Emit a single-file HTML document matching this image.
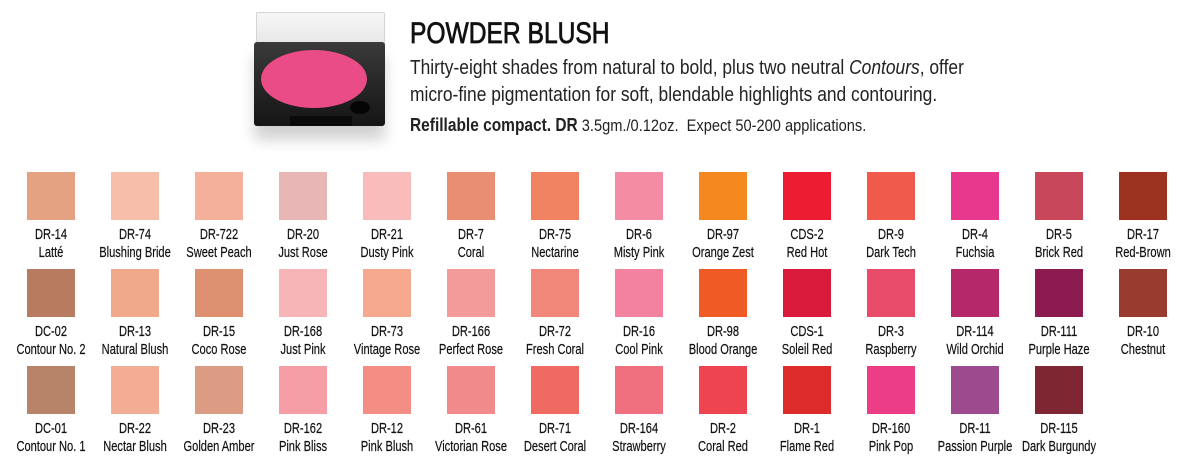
<!DOCTYPE html>
<html><head><meta charset="utf-8"><style>
body{margin:0;width:1186px;height:472px;background:#fff;position:relative;overflow:hidden;font-family:"Liberation Sans",sans-serif;color:#222}
.sw{position:absolute;width:48px;height:48px}
.lb{position:absolute;width:120px;text-align:center;font-size:15px;line-height:18px;transform:scaleX(0.74);transform-origin:center top;white-space:nowrap;color:#111;-webkit-text-stroke:0.2px #111}
.t{position:absolute;left:410px;white-space:nowrap;transform-origin:left top}
</style></head><body>
<div style="position:absolute;left:256px;top:12px;width:127px;height:32px;background:linear-gradient(#f7f7f7,#e6e6e6);border:1px solid #d5d5d5;border-radius:2px"></div>
<div style="position:absolute;left:254px;top:42px;width:131px;height:84px;background:linear-gradient(#3a3a3a,#151515);border-radius:3px;box-shadow:0 14px 14px rgba(0,0,0,0.18)"></div>
<div style="position:absolute;left:261px;top:50px;width:106px;height:58px;border-radius:50%;background:#e94c86"></div>
<div style="position:absolute;left:350px;top:101px;width:20px;height:13px;border-radius:50%;background:#050505"></div>
<div style="position:absolute;left:290px;top:116px;width:62px;height:10px;background:#0a0a0a"></div>
<div class="t" style="top:17px;font-size:30px;transform:scaleX(0.82);color:#111;-webkit-text-stroke:0.8px #111">POWDER BLUSH</div>
<div class="t" style="top:55px;font-size:20px;line-height:27px;transform:scaleX(0.87);color:#222">Thirty-eight shades from natural to bold, plus two neutral <i>Contours</i>, offer<br>micro-fine pigmentation for soft, blendable highlights and contouring.</div>
<div class="t" style="top:115px;font-size:17px;transform:scaleX(0.86);color:#222"><b style="font-size:18px">Refillable compact. DR</b> 3.5gm./0.12oz.&nbsp; Expect 50-200 applications.</div>
<div id="g"></div>
<script>
var rows=[
[["DR-14","Latté","#e5a282"],["DR-74","Blushing Bride","#f7bfa9"],["DR-722","Sweet Peach","#f4b09b"],["DR-20","Just Rose","#e9b6b6"],["DR-21","Dusty Pink","#f9bcbb"],["DR-7","Coral","#e98e72"],["DR-75","Nectarine","#f08462"],["DR-6","Misty Pink","#f48ca4"],["DR-97","Orange Zest","#f5891f"],["CDS-2","Red Hot","#ec1c32"],["DR-9","Dark Tech","#f05a4a"],["DR-4","Fuchsia","#e8388e"],["DR-5","Brick Red","#c9475a"],["DR-17","Red-Brown","#9b3320"]],
[["DC-02","Contour No. 2","#b97b60"],["DR-13","Natural Blush","#f0a98b"],["DR-15","Coco Rose","#dd9170"],["DR-168","Just Pink","#f8b5b8"],["DR-73","Vintage Rose","#f6a98e"],["DR-166","Perfect Rose","#f39a9a"],["DR-72","Fresh Coral","#f2887a"],["DR-16","Cool Pink","#f282a0"],["DR-98","Blood Orange","#f05a24"],["CDS-1","Soleil Red","#d91a3a"],["DR-3","Raspberry","#e94b6a"],["DR-114","Wild Orchid","#b5296a"],["DR-111","Purple Haze","#8c1b4f"],["DR-10","Chestnut","#9a3b30"]],
[["DC-01","Contour No. 1","#b7846a"],["DR-22","Nectar Blush","#f3ad94"],["DR-23","Golden Amber","#dc9b83"],["DR-162","Pink Bliss","#f59ea5"],["DR-12","Pink Blush","#f48e84"],["DR-61","Victorian Rose","#f18a8a"],["DR-71","Desert Coral","#ee6a63"],["DR-164","Strawberry","#f07080"],["DR-2","Coral Red","#ed4450"],["DR-1","Flame Red","#dd2a2a"],["DR-160","Pink Pop","#ec3e86"],["DR-11","Passion Purple","#9e4a8f"],["DR-115","Dark Burgundy","#7e2632"]]];
var tops=[172,269,366],h="";
rows.forEach(function(r,ri){r.forEach(function(c,i){var cx=51+84*i,t=tops[ri];
h+='<div class="sw" style="left:'+(cx-24)+'px;top:'+t+'px;background:'+c[2]+'"></div>';
h+='<div class="lb" style="left:'+(cx-60)+'px;top:'+(t+54)+'px">'+c[0]+'<br>'+c[1]+'</div>';});});
document.getElementById('g').innerHTML=h;
</script>
</body></html>
